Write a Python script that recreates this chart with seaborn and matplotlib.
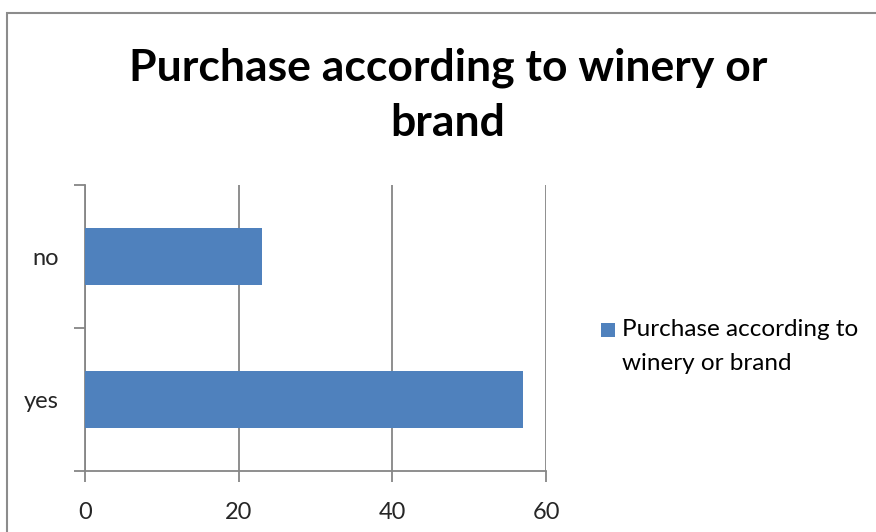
import matplotlib
matplotlib.use("Agg")
import matplotlib.pyplot as plt
import seaborn as sns
import pandas as pd
from matplotlib.patches import Rectangle

# Survey answers and counts
categories = ["yes", "no"]
counts = [57, 23]
series_name = "Purchase according to winery or brand"
title_text = "Purchase according to winery or\nbrand"
x_ticks = [0, 20, 40, 60]

sns.set_theme(style="white")
plt.rcParams["font.family"] = ["Lato", "DejaVu Sans"]

df = pd.DataFrame({"answer": categories, "count": counts})

fig = plt.figure(figsize=(8.76, 5.32), dpi=100)
W, H = 876, 532
ax = fig.add_axes([85 / W, (H - 471) / H, (546 - 85) / W, (471 - 185) / H])

bar_color = "#4F81BD"
grid_color = "#868686"

sns.barplot(data=df, y="answer", x="count", orient="h", order=["no", "yes"],
            color=bar_color, saturation=1, width=0.4, ax=ax, zorder=3,
            edgecolor="none", linewidth=0)

ax.set_xlim(0, 60)
ax.set_ylim(1.5, -0.5)
ax.set_xticks(x_ticks)
ax.set_xticklabels([str(v) for v in x_ticks])
ax.set_xlabel("")
ax.set_ylabel("")

# vertical gridlines at major x ticks
ax.grid(axis="x", color=grid_color, linewidth=1.3, zorder=0)
ax.grid(axis="y", visible=False)

# y ticks sit between categories, labels stay centered on bars
ax.set_yticks([-0.5, 0.5, 1.5], minor=False)
ax.set_yticklabels(["", "", ""])
ax.set_yticks([0, 1], minor=True)
ax.set_yticklabels(["no", "yes"], minor=True)
ax.tick_params(axis="y", which="minor", left=True, length=0, pad=19, labelsize=17)
ax.tick_params(axis="y", which="major", left=True, length=8, width=1.3,
               color=grid_color, direction="out")
ax.tick_params(axis="x", bottom=True, length=8, width=1.3, color=grid_color,
               direction="out", pad=14, labelsize=17)

for side in ["top", "right"]:
    ax.spines[side].set_visible(False)
for side in ["left", "bottom"]:
    ax.spines[side].set_color(grid_color)
    ax.spines[side].set_linewidth(1.3)

fig.text(448 / W, 1 - 95 / H, title_text, ha="center", va="center",
         fontsize=32, fontweight="bold", linespacing=1.45, color="black")

# legend: colour key and series name
fig.add_artist(Rectangle((601 / W, 1 - 337 / H), 14 / W, 14 / H,
                         transform=fig.transFigure, facecolor=bar_color,
                         edgecolor="none"))
fig.text(622 / W, 1 - 319 / H, "Purchase according to\nwinery or brand",
         ha="left", va="top", fontsize=17.5, linespacing=1.75, color="black")

# chart frame
fig.add_artist(Rectangle((7 / W, -0.05), 1.2, 1 - 13 / H + 0.05,
                         transform=fig.transFigure, fill=False,
                         edgecolor="#8c8c8c", linewidth=1.5))

fig.savefig("out.png", dpi=100)
